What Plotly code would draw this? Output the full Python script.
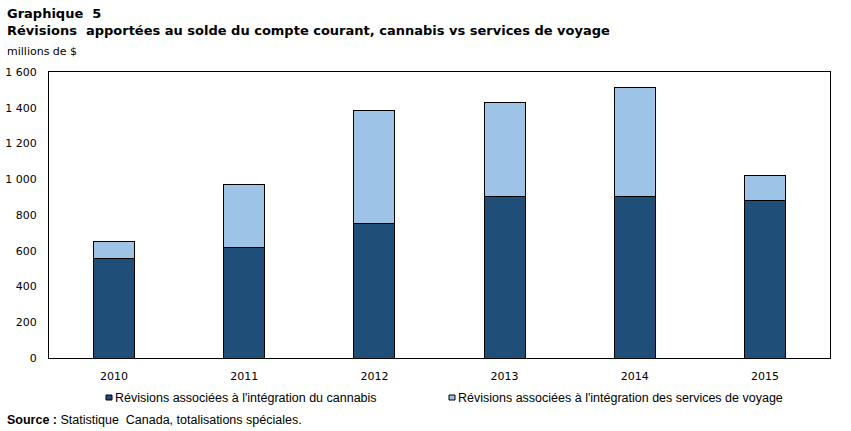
import plotly.graph_objects as go

years = ["2010", "2011", "2012", "2013", "2014", "2015"]
cannabis = [554, 621, 755, 901, 904, 882]
voyage = [95, 347, 632, 529, 612, 140]
ytick_vals = [0, 200, 400, 600, 800, 1000, 1200, 1400, 1600]
ytick_text = ["0", "200", "400", "600", "800", "1 000", "1 200", "1 400", "1 600"]

name_c = "Révisions associées à l'intégration du cannabis"
name_v = "Révisions associées à l'intégration des services de voyage"
col_c = "#1f4e79"
col_v = "#9dc3e6"

W, H = 851, 431
L, R, T, B = 49, 21, 72, 73
PW, PH = W - L - R, H - T - B

def px(x):
    return (x - L) / PW

def py(y):
    return (H - B - y) / PH

fig = go.Figure()
fig.add_trace(go.Bar(x=years, y=cannabis, name=name_c, marker=dict(color=col_c, line=dict(color="black", width=1)), width=0.315))
fig.add_trace(go.Bar(x=years, y=voyage, name=name_v, marker=dict(color=col_v, line=dict(color="black", width=1)), width=0.315))

fig.update_layout(
    barmode="stack",
    width=W, height=H,
    margin=dict(l=L, r=R, t=T, b=B, autoexpand=False),
    paper_bgcolor="white", plot_bgcolor="white",
    font=dict(family="DejaVu Sans, Verdana", size=11, color="black"),
    showlegend=False,
    xaxis=dict(showline=True, linecolor="black", linewidth=1, mirror=True, ticks="", tickfont=dict(size=11),
               ticklabelstandoff=8, automargin=False),
    yaxis=dict(range=[0, 1600], tickvals=ytick_vals, ticktext=ytick_text, showline=True, linecolor="black",
               linewidth=1, mirror=True, showgrid=False, ticks="", zeroline=False, tickfont=dict(size=11),
               ticklabelstandoff=9, automargin=False),
)

narrow = dict(family="Liberation Sans Narrow, Liberation Sans", size=12.5)
anns = [
    dict(text="<b>Graphique  5</b>", x=5, y=4, font=dict(size=13)),
    dict(text="<b>Révisions  apportées au solde du compte courant, cannabis vs services de voyage</b>", x=5, y=21, font=dict(size=13)),
    dict(text="millions de $", x=5, y=43, font=dict(size=11)),
    dict(text="<b>Source :</b> Statistique  Canada, totalisations spéciales.", x=5, y=411, font=narrow),
]
for a in anns:
    fig.add_annotation(text=a["text"], xref="paper", yref="paper", x=px(a["x"]), y=py(a["y"]),
                       xanchor="left", yanchor="top", showarrow=False, font=a["font"], align="left")

# legend built manually
legend_items = [(106, name_c, col_c), (449, name_v, col_v)]
for x0, name, col in legend_items:
    fig.add_shape(type="rect", xref="paper", yref="paper", x0=px(x0), x1=px(x0 + 6), y0=py(400), y1=py(395),
                  fillcolor=col, line=dict(color="black", width=1))
    fig.add_annotation(text=name, xref="paper", yref="paper", x=px(x0 + 7), y=py(397.5),
                       xanchor="left", yanchor="middle", showarrow=False, font=narrow)

fig.write_html("out.html")
